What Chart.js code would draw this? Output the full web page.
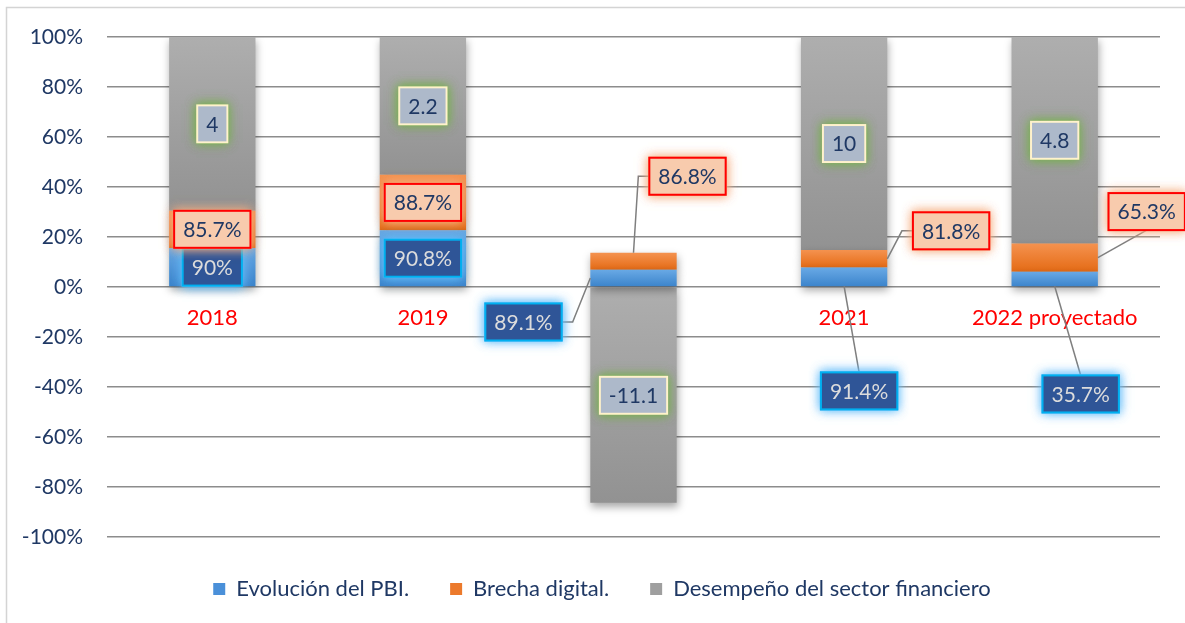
<!DOCTYPE html>
<html>
<head>
<meta charset="utf-8">
<script src="https://cdn.jsdelivr.net/npm/chart.js@4.4.1/dist/chart.umd.min.js"></script>
<style>
  html, body { margin: 0; padding: 0; background: #fff; }
  #wrap { width: 1185px; height: 623px; position: relative; }
</style>
</head>
<body>
<div id="wrap"><canvas id="chart"></canvas></div>
<script>
const categories = ['2018', '2019', '2020', '2021', '2022 proyectado'];
const seriesNames = ['Evolución del PBI.', 'Brecha digital.', 'Desempeño del sector financiero'];
const pbi = [0.900, 0.908, 0.891, 0.914, 0.357];
const brecha = [0.857, 0.887, 0.868, 0.818, 0.653];
const desempeno = [4, 2.2, -11.1, 10, 4.8];
const yTicks = [-100, -80, -60, -40, -20, 0, 20, 40, 60, 80, 100];

const FONT = 'Lato, "Open Sans", sans-serif';
const NAVY = '#1f3864';

// 100% stacked: each value as a share of the column's absolute total (as Excel does)
const raw = [pbi, brecha, desempeno];
const totals = categories.map((c, i) => raw.reduce((s, arr) => s + Math.abs(arr[i]), 0));
const shares = raw.map(arr => arr.map((v, i) => v / totals[i] * 100));

const pct = v => (v * 100).toFixed(1).replace(/\.0$/, '') + '%';
const labelText = [pbi.map(pct), brecha.map(pct), desempeno.map(v => String(v))];

const gradStops = [
  ['#69a9e5', '#3a83cb'],
  ['#f4924f', '#e56b15'],
  ['#aeaeae', '#929292']
];
const legendColors = ['#4a90d9', '#ec7a2c', '#9f9f9f'];

function bounds(d, i) {
  let pos = 0, neg = 0;
  for (let k = 0; k < d; k++) {
    const v = shares[k][i];
    if (v >= 0) pos += v; else neg += v;
  }
  const v = shares[d][i];
  return v >= 0 ? [pos, pos + v] : [neg + v, neg];
}

function barFill(d) {
  return ctx => {
    const chart = ctx.chart;
    const y = chart.scales.y;
    if (ctx.type !== 'data' || !chart.chartArea || !y) return legendColors[d];
    const [lo, hi] = bounds(d, ctx.dataIndex);
    const top = y.getPixelForValue(hi), bot = y.getPixelForValue(lo);
    if (!isFinite(top) || !isFinite(bot) || top === bot) return legendColors[d];
    const g = chart.ctx.createLinearGradient(0, top, 0, bot);
    g.addColorStop(0, gradStops[d][0]);
    g.addColorStop(1, gradStops[d][1]);
    return g;
  };
}

const labelStyles = [
  { fill: '#2f5597', border: '#00b0f0', glow: 'rgba(100,190,250,0.9)', text: '#dcdcdc' },
  { fill: '#f8cbad', border: '#ff0000', glow: 'rgba(246,175,130,0.9)', text: NAVY },
  { fill: '#adb9ca', border: '#fff2cc', glow: 'rgba(120,175,80,0.95)', text: NAVY }
];
// labels pulled away from their segment, with leader lines (dataset-index)
const moved = {
  '1-2': { dx: 54, dy: -85, from: 'top', to: 'left' },
  '0-2': { dx: -110, dy: 44, from: 'left', to: 'right' },
  '1-3': { dx: 107, dy: -28, from: 'right', to: 'left' },
  '0-3': { dx: 15, dy: 114, from: 'bottom', to: 'top' },
  '1-4': { dx: 92, dy: -46, from: 'right', to: 'bottom' },
  '0-4': { dx: 26, dy: 115, from: 'bottom', to: 'top' }
};

const frame = {
  id: 'frame',
  beforeDraw(chart) {
    const c = chart.ctx;
    c.save();
    c.fillStyle = '#fff';
    c.fillRect(0, 0, chart.width, chart.height);
    c.strokeStyle = '#d4d4d4';
    c.lineWidth = 1.5;
    c.strokeRect(6.5, 7.5, chart.width + 20, chart.height + 20);
    c.restore();
  }
};

const barShadow = {
  id: 'barShadow',
  beforeDatasetsDraw(chart) {
    const c = chart.ctx;
    c.save();
    c.shadowColor = 'rgba(0,0,0,0.35)';
    c.shadowBlur = 8;
    c.shadowOffsetX = 1;
    c.shadowOffsetY = 4;
  },
  afterDatasetsDraw(chart) {
    chart.ctx.restore();
  }
};

const dataLabels = {
  id: 'dataLabels',
  afterDatasetsDraw(chart) {
    const c = chart.ctx;
    c.save();
    c.font = '21px ' + FONT;
    c.textAlign = 'center';
    c.textBaseline = 'middle';
    const items = [];
    chart.data.datasets.forEach((ds, d) => {
      chart.getDatasetMeta(d).data.forEach((el, i) => {
        const p = el.getProps(['x', 'y', 'base', 'width'], true);
        const top = Math.min(p.y, p.base), bot = Math.max(p.y, p.base);
        const cx = p.x, cy = (top + bot) / 2;
        const text = labelText[d][i];
        const w = c.measureText(text).width + 18, h = 37;
        const m = moved[d + '-' + i];
        const bx = m ? cx + m.dx : cx, by = m ? cy + m.dy : cy;
        const box = { l: bx - w / 2, r: bx + w / 2, t: by - h / 2, b: by + h / 2, x: bx, y: by };
        items.push({ d, text, box, m, anchor: { top: [cx, top], bottom: [cx, bot], left: [cx - p.width / 2, cy], right: [cx + p.width / 2, cy] } });
      });
    });
    // leader lines
    c.strokeStyle = '#7f7f7f';
    c.lineWidth = 1.5;
    items.filter(it => it.m).forEach(it => {
      const a = it.anchor[it.m.from], b = it.box;
      c.beginPath();
      c.moveTo(a[0], a[1]);
      if (it.m.to === 'left') { c.lineTo(b.l - 11, b.y); c.lineTo(b.l, b.y); }
      else if (it.m.to === 'right') { c.lineTo(b.r + 11, b.y); c.lineTo(b.r, b.y); }
      else if (it.m.to === 'top') c.lineTo(b.x, b.t);
      else c.lineTo(b.x, b.b);
      c.stroke();
    });
    // boxes with soft glow
    items.forEach(it => {
      const s = labelStyles[it.d], b = it.box;
      c.save();
      c.shadowColor = s.glow;
      c.shadowBlur = 10;
      c.fillStyle = s.glow;
      for (let k = 0; k < 2; k++) c.fillRect(b.l - 1, b.t - 1, b.r - b.l + 2, b.b - b.t + 2);
      c.restore();
      c.fillStyle = s.fill;
      c.fillRect(b.l, b.t, b.r - b.l, b.b - b.t);
      c.strokeStyle = s.border;
      c.lineWidth = 2;
      c.strokeRect(b.l, b.t, b.r - b.l, b.b - b.t);
      c.fillStyle = s.text;
      c.fillText(it.text, b.x, b.y + 1);
    });
    c.restore();
  }
};

new Chart(document.getElementById('chart'), {
  type: 'bar',
  data: {
    labels: categories,
    datasets: seriesNames.map((name, d) => ({
      label: name,
      data: shares[d],
      backgroundColor: barFill(d),
      borderWidth: 0,
      barPercentage: 0.41,
      categoryPercentage: 1
    }))
  },
  options: {
    responsive: true,
    maintainAspectRatio: false,
    animation: false,
    layout: { padding: { left: 19, right: 0, top: 37, bottom: 13 } },
    scales: {
      x: {
        stacked: true,
        position: { y: 0 },
        grid: { display: false, drawTicks: false },
        border: { display: false },
        ticks: { color: '#ff0000', font: { size: 22, family: FONT }, padding: 18, maxRotation: 0 }
      },
      y: {
        stacked: true,
        min: -100,
        max: 100,
        afterFit(s) { s.width = 88; },
        afterBuildTicks(s) { s.ticks = yTicks.map(v => ({ value: v })); },
        grid: { color: '#8c8c8c', lineWidth: 1.5, drawTicks: false },
        border: { display: false },
        ticks: { color: NAVY, padding: 24, font: { size: 21, family: FONT }, callback: v => v + '%' }
      },
      // empty right margin, so the legend centres like the original
      margin: {
        type: 'linear',
        position: 'right',
        grid: { display: false, drawTicks: false },
        border: { display: false },
        ticks: { display: false },
        afterFit(s) { s.width = 25; }
      }
    },
    plugins: {
      tooltip: { enabled: false },
      legend: {
        position: 'bottom',
        labels: {
          boxWidth: 12,
          boxHeight: 12,
          padding: 41,
          color: NAVY,
          font: { size: 22, family: FONT },
          generateLabels: chart => chart.data.datasets.map((ds, i) => ({
            text: ds.label,
            fillStyle: legendColors[i],
            strokeStyle: legendColors[i],
            lineWidth: 0,
            fontColor: NAVY,
            hidden: !chart.isDatasetVisible(i),
            datasetIndex: i
          }))
        }
      }
    }
  },
  plugins: [frame, barShadow, dataLabels]
});
</script>
</body>
</html>
